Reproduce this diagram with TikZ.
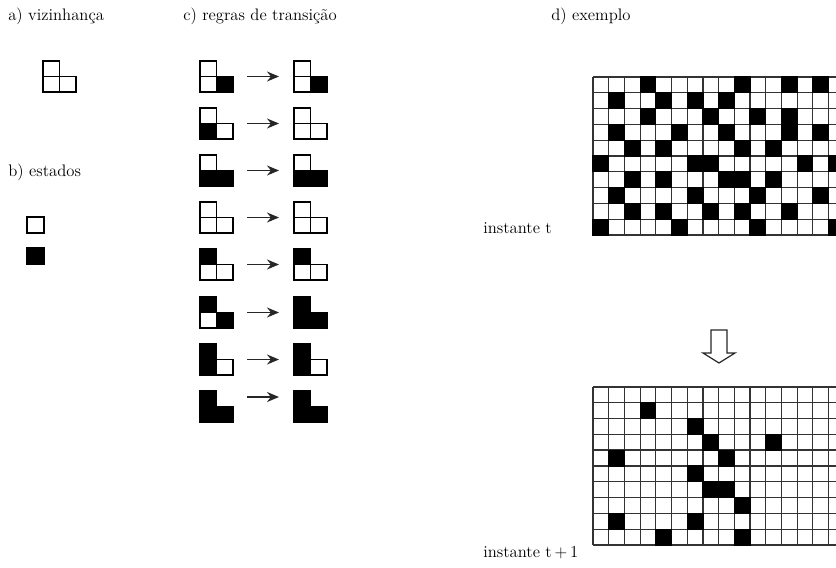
\documentclass[tikz,border=0pt]{standalone}
\usetikzlibrary{arrows.meta}

\begin{document}
\begin{tikzpicture}[
    x=0.75pt, y=-0.75pt,
    line join=miter,
    label/.style={anchor=west, inner sep=0pt, font=\fontsize{12.5}{15}\selectfont},
    cell/.style={draw=black, line width=1.1pt},
    gridline/.style={draw=black!80, line width=0.9pt},
    blackcell/.style={draw=black, fill=black, line width=0.9pt},
    rulearrow/.style={-{Stealth[length=9pt, width=7.5pt]}, line width=1.2pt, black!85},
    bigarrow/.style={draw=black!85, line width=0.9pt, fill=white}
  ]

% page frame, same size as the reference
\useasboundingbox (0,0) rectangle (836,568);
\clip (0,0) rectangle (836,568);

% L-shape geometry
\def\cw{16.5}
\def\ch{15.5}

% ============================================================
% (a) neighbourhood
% ============================================================
\node[label] (tita) at (8,16) {a) vizinhança};

\begin{scope}[shift={(43,61)}]
  \draw[cell, fill=white] (0,0) rectangle (\cw,\ch);
  \draw[cell, fill=white] (0,\ch) rectangle (\cw,2*\ch);
  \draw[cell, fill=white] (\cw,\ch) rectangle (2*\cw,2*\ch);
\end{scope}

% ============================================================
% (b) states
% ============================================================
\node[label] (titb) at (8,172) {b) estados};

\draw[cell, fill=white] (27,217) rectangle (44,233);
\draw[cell, fill=black] (27,248) rectangle (44,264);

% ============================================================
% (c) transition rules: top / bottom-left / bottom-right
% ============================================================
\node[label] (titc) at (183,16) {c) regras de transição};

\foreach \n/\y/\ay/\at/\al/\ar/\bt/\bl/\br in {
    1/61/15.5/white/white/black/white/white/black,
    2/108/15.5/white/black/white/white/white/white,
    3/155/15.5/white/black/black/white/black/black,
    4/202/15.5/white/white/white/white/white/white,
    5/249/15.5/black/white/white/black/white/white,
    6/297/15.5/black/white/black/black/black/black,
    7/344/15.5/black/black/white/black/black/white,
    8/391/6/black/black/black/black/black/black}{
  % before
  \begin{scope}[shift={(200,\y)}]
    \draw[cell, fill=\at] (0,0) rectangle (\cw,\ch);
    \draw[cell, fill=\al] (0,\ch) rectangle (\cw,2*\ch);
    \draw[cell, fill=\ar] (\cw,\ch) rectangle (2*\cw,2*\ch);
  \end{scope}
  % after
  \begin{scope}[shift={(294,\y)}]
    \draw[cell, fill=\bt] (0,0) rectangle (\cw,\ch);
    \draw[cell, fill=\bl] (0,\ch) rectangle (\cw,2*\ch);
    \draw[cell, fill=\br] (\cw,\ch) rectangle (2*\cw,2*\ch);
  \end{scope}
  \coordinate (r\n s) at (247,\y+\ay);
  \coordinate (r\n e) at (279,\y+\ay);
  \draw[rulearrow] (r\n s) -- (r\n e);
}

% ============================================================
% (d) example: two generations of the automaton
% ============================================================
\node[label] (titd) at (551,16) {d) exemplo};

% instant t
\begin{scope}[shift={(593,77)}, x=11.775pt, y=-11.85pt]
  \foreach \i in {0,...,16} \draw[gridline] (\i,0) -- (\i,10);
  \foreach \j in {0,...,10} \draw[gridline] (0,\j) -- (16,\j);
  \foreach \c/\r in {3/0,9/0,12/0,14/0,
      1/1,4/1,6/1,8/1,
      3/2,7/2,10/2,12/2,
      1/3,5/3,8/3,12/3,14/3,
      2/4,4/4,9/4,11/4,
      0/5,6/5,7/5,13/5,15/5,
      2/6,4/6,8/6,9/6,11/6,
      1/7,6/7,10/7,14/7,
      2/8,4/8,7/8,9/8,12/8,
      0/9,5/9,10/9,15/9}
    \draw[blackcell] (\c,\r) rectangle +(1,1);
\end{scope}
\node[label] (instt) at (483,228) {instante t};

% hollow arrow between the two grids
\draw[bigarrow] (711,330) -- (727,330) -- (727,353) -- (735,353)
  -- (719,363) -- (703,353) -- (711,353) -- cycle;

% instant t+1
\begin{scope}[shift={(593,387)}, x=11.775pt, y=-11.85pt]
  \foreach \i in {0,...,16} \draw[gridline] (\i,0) -- (\i,10);
  \foreach \j in {0,...,10} \draw[gridline] (0,\j) -- (16,\j);
  \draw[gridline, line width=1.6pt] (0,4) -- (16,4);
  \foreach \c/\r in {3/1,6/2,7/3,11/3,1/4,8/4,6/5,
      7/6,8/6,9/7,1/8,6/8,4/9,9/9}
    \draw[blackcell] (\c,\r) rectangle +(1,1);
\end{scope}
\node[label] (insttt) at (483,553) {instante t\,+\,1};

\end{tikzpicture}
\end{document}
